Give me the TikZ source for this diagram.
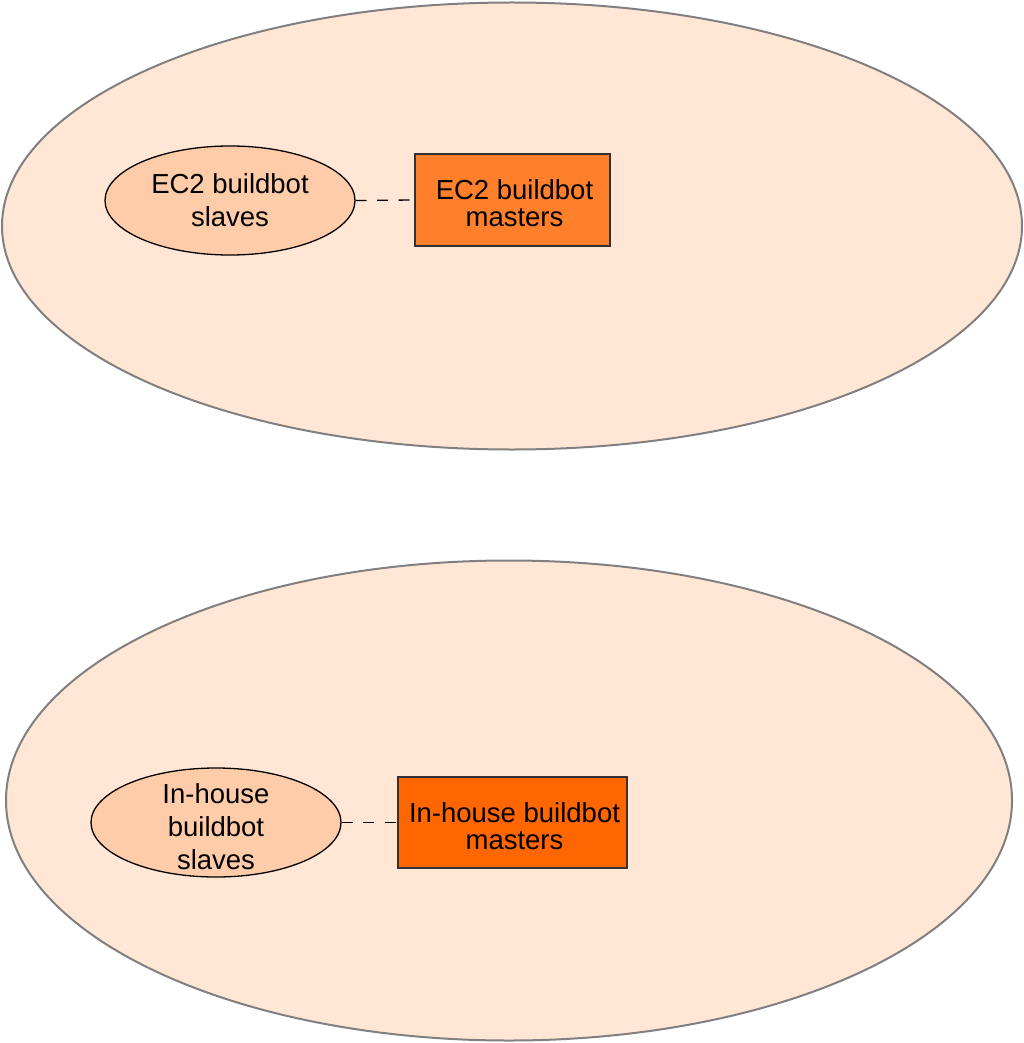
\documentclass[tikz,border=0pt]{standalone}
\usepackage{fontspec}
\setmainfont{Liberation Sans}
\usetikzlibrary{shapes.geometric}
\definecolor{zonefill}{HTML}{FFE6D5}
\definecolor{slavefill}{HTML}{FFCCAA}
\definecolor{masterA}{HTML}{FF7F2A}
\definecolor{masterB}{HTML}{FF6600}
\definecolor{zoneline}{HTML}{808080}
\definecolor{boxline}{HTML}{333333}
\begin{document}
\begin{tikzpicture}[x=1pt,y=-1pt,
  every node/.style={font=\fontsize{27.5}{33}\selectfont, align=center, inner sep=0pt},
  zone/.style={ellipse, draw=zoneline, fill=zonefill, line width=2pt},
  slave/.style={ellipse, draw=black, fill=slavefill, line width=1.3pt, minimum width=250pt, minimum height=109pt},
  master/.style={rectangle, draw=boxline, line width=1.3pt},
  boxtext/.style={font=\fontsize{27.5}{27}\selectfont, align=center, inner sep=0pt},
  link/.style={draw=black, line width=1.3pt, dash pattern=on 11pt off 10.5pt}]
\useasboundingbox (0,0) rectangle (1024,1043);
\node[zone, minimum width=1020pt, minimum height=447pt] (zoneA) at (512,226) {};
\node[zone, minimum width=1006pt, minimum height=480pt] (zoneB) at (509,800.5) {};
\node[slave] (slaveA) at (230,200.5) {EC2 buildbot\\slaves};
\node[master, fill=masterA, minimum width=195pt, minimum height=92pt] (masterA) at (512.5,200) {};
\node[boxtext] (masterAtext) at (514.5,203.5) {EC2 buildbot\\masters};
\node[slave] (slaveB) at (216,822.5) {};
\node (slaveBtext) at (216,826.5) {In-house\\buildbot\\slaves};
\node[master, fill=masterB, minimum width=229pt, minimum height=91pt] (masterB) at (512.5,822.5) {};
\node[boxtext] (masterBtext) at (514.5,826.5) {In-house buildbot\\masters};
\draw[link] (slaveA.east) -- (masterA.west);
\draw[link] (slaveB.east) -- (masterB.west);
\end{tikzpicture}
\end{document}
